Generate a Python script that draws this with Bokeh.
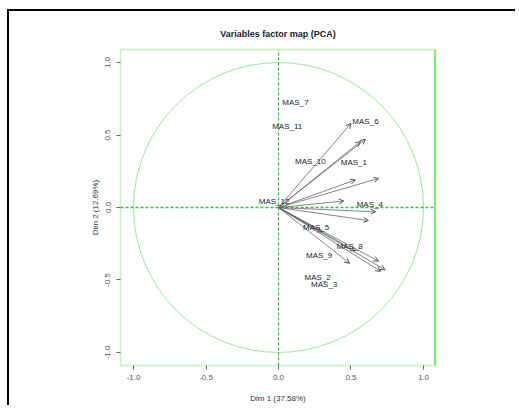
from bokeh.plotting import figure
from bokeh.models import (ColumnDataSource, Arrow, OpenHead, Span, Range1d,
                          FixedTicker, LabelSet, PrintfTickFormatter)
from bokeh.core.properties import value
from bokeh.embed import file_html
from bokeh.resources import INLINE

# ---- data ----
title_text = "Variables factor map (PCA)"
x_label = "Dim 1 (37.58%)"
y_label = "Dim 2 (12.69%)"
xlim = [-1.09, 1.083]
ylim = [-1.09, 1.09]
ticks = [-1.0, -0.5, 0.0, 0.5, 1.0]
circle_r = [1.0]
origin = [0.0, 0.0]

# arrow tips (variable coordinates)
arrow_x = [0.60, 0.565, 0.50, 0.69, 0.53, 0.45, 0.67, 0.62,
           0.30, 0.53, 0.69, 0.735, 0.705, 0.49]
arrow_y = [0.47, 0.455, 0.58, 0.20, 0.19, 0.045, -0.03, -0.09,
           -0.17, -0.30, -0.37, -0.43, -0.44, -0.385]

# variable labels and their (repelled) positions
labels = ["MAS_7", "MAS_11", "MAS_6", "MAS_10", "MAS_1", "MAS_12",
          "MAS_4", "MAS_5", "MAS_8", "MAS_9", "MAS_2", "MAS_3"]
label_x = [0.117, 0.06, 0.60, 0.22, 0.52, -0.03,
           0.63, 0.26, 0.49, 0.28, 0.27, 0.315]
label_y = [0.726, 0.56, 0.595, 0.32, 0.31, 0.04,
           0.02, -0.14, -0.27, -0.33, -0.48, -0.53]

FONT = "Liberation Sans"

p = figure(width=508, height=396, output_backend="svg", toolbar_location=None,
           x_range=Range1d(xlim[0], xlim[1]), y_range=Range1d(ylim[0], ylim[1]),
           min_border_left=111, min_border_right=82,
           min_border_top=38, min_border_bottom=42)
p.styles = {"margin-left": "7px", "margin-top": "9px",
            "border-top": "2px solid black", "border-left": "2px solid black"}

p.title.text = title_text
p.title.align = "center"
p.title.text_font = FONT
p.title.text_font_size = "9px"
p.title.text_font_style = "bold"
p.title.text_color = "#222222"
p.title.standoff = 21

p.xgrid.visible = False
p.ygrid.visible = False
p.background_fill_color = "white"
p.border_fill_color = "white"
p.outline_line_color = "#c6f2c6"
p.outline_line_width = 1.5

for ax in (p.xaxis[0], p.yaxis[0]):
    ax.ticker = FixedTicker(ticks=ticks)
    ax.formatter = PrintfTickFormatter(format="%.1f")
    ax.axis_line_color = None
    ax.major_tick_in = 0
    ax.major_tick_out = 4
    ax.major_tick_line_color = "#666666"
    ax.minor_tick_line_color = None
    ax.major_label_text_font = FONT
    ax.major_label_text_font_size = "8px"
    ax.major_label_text_color = "#555555"
    ax.axis_label_text_font = FONT
    ax.axis_label_text_font_size = "8px"
    ax.axis_label_text_font_style = "normal"
    ax.axis_label_text_color = "#333333"

p.xaxis.axis_label = x_label
p.yaxis.axis_label = y_label
p.yaxis.major_label_orientation = "vertical"
p.xaxis.major_label_standoff = 5
p.xaxis.axis_label_standoff = 11
p.yaxis.major_label_standoff = 6
p.yaxis.axis_label_standoff = 3

# unit circle
p.circle(x=[origin[0]], y=[origin[1]], radius=circle_r, fill_color=None,
         line_color="#9be89b", line_width=1)

# dashed axes through origin
p.line(x=xlim, y=[origin[1], origin[1]], line_color="#22cc22",
       line_dash="3 2", line_width=1.5)
p.line(x=[origin[0], origin[0]], y=ylim, line_color="#22cc22",
       line_dash="3 2", line_width=1.2)
# bright right frame edge
p.add_layout(Span(location=xlim[1], dimension="height", line_color="#22dd22",
                  line_width=2))

# arrows
asrc = ColumnDataSource(dict(x0=[origin[0]] * len(arrow_x),
                             y0=[origin[1]] * len(arrow_y),
                             x1=arrow_x, y1=arrow_y))
p.add_layout(Arrow(end=OpenHead(size=5, line_color="#555555", line_width=1),
                   x_start="x0", y_start="y0", x_end="x1", y_end="y1",
                   source=asrc, line_color="#666666", line_width=0.8))

# labels
lsrc = ColumnDataSource(dict(x=label_x, y=label_y, t=labels))
p.add_layout(LabelSet(x="x", y="y", text="t", source=lsrc,
                      text_font=value(FONT), text_font_size="8px",
                      text_color="#222233", text_align="center",
                      text_baseline="middle"))

open("out.html", "w").write(file_html(p, INLINE))
